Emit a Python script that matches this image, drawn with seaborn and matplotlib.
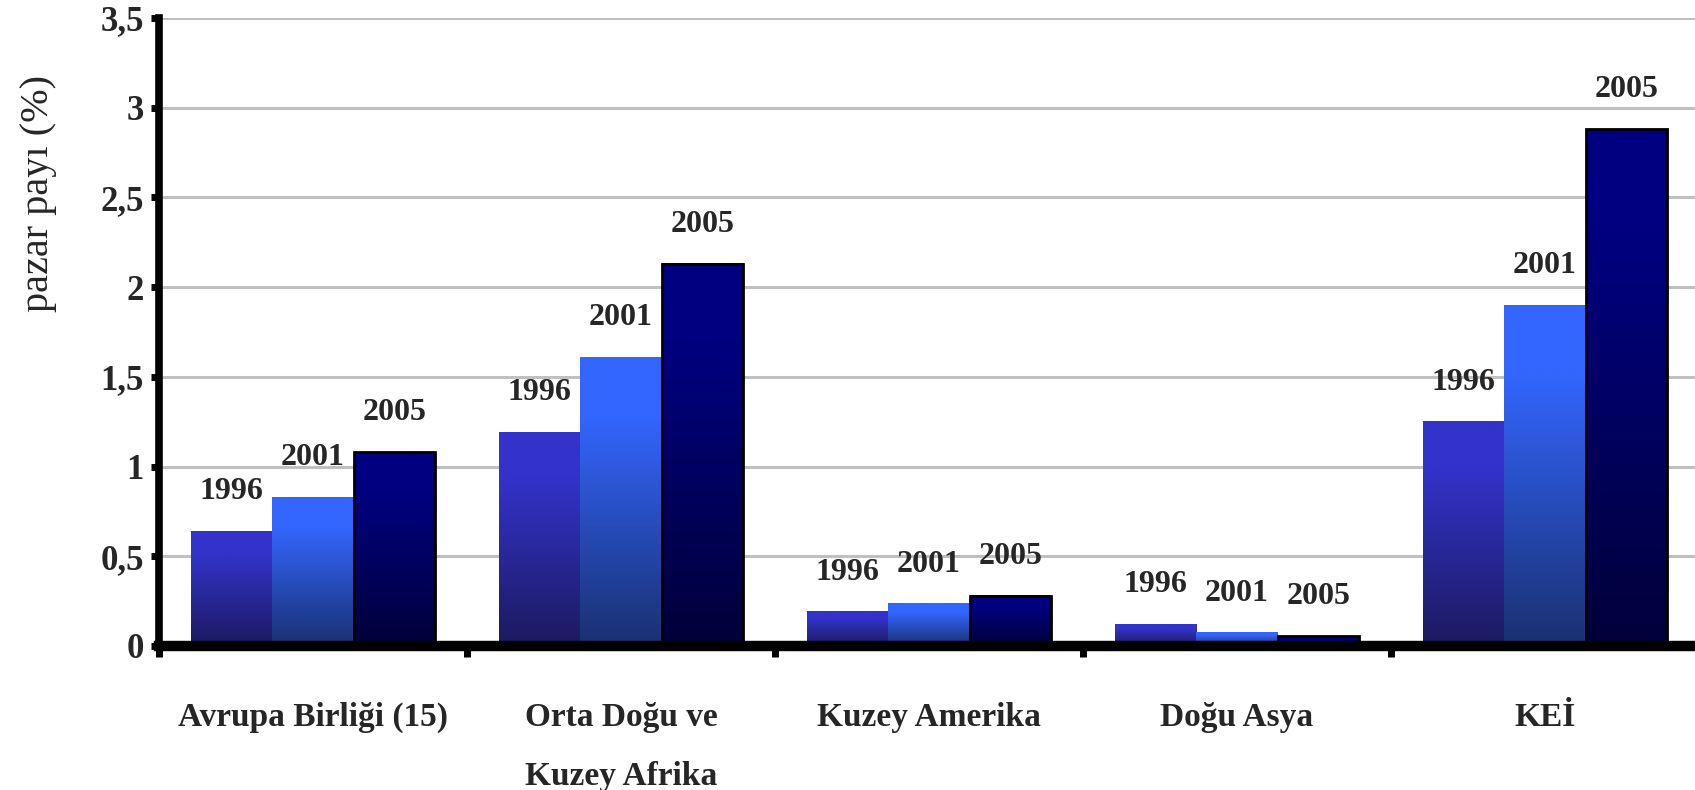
import numpy as np
import pandas as pd
import seaborn as sns
import matplotlib.pyplot as plt
from matplotlib.colors import to_rgb
from matplotlib.ticker import FixedLocator, FuncFormatter

# data
bolgeler = ["Avrupa Birliği (15)", "Orta Doğu ve\nKuzey Afrika", "Kuzey Amerika", "Doğu Asya", "KEİ"]
yillar = ["1996", "2001", "2005"]
pay_1996 = [0.64, 1.19, 0.19, 0.12, 1.25]
pay_2001 = [0.83, 1.61, 0.235, 0.075, 1.90]
pay_2005 = [1.08, 2.13, 0.28, 0.055, 2.88]

# bar colours: top / bottom of the gradient
renk_ust = {"1996": "#3333cc", "2001": "#3366ff", "2005": "#000080"}
renk_alt = {"1996": "#1c1a5e", "2001": "#1a3070", "2005": "#00003a"}


def gradient_fill(ax, patch, top, bottom):
    x, w, h = patch.get_x(), patch.get_width(), patch.get_height()
    t = np.clip(np.linspace(0, 1, 256) / 0.8, 0, 1)
    c0, c1 = np.array(to_rgb(bottom)), np.array(to_rgb(top))
    grad = (c0 + (c1 - c0) * t[:, None])[:, None, :]
    ax.imshow(grad, extent=[x, x + w, 0, h], origin="lower", aspect="auto",
              zorder=patch.get_zorder() - 0.01, interpolation="bilinear")
    patch.set_facecolor("none")


def main():
    df = pd.DataFrame({
        "bolge": bolgeler * 3,
        "yil": [y for y in yillar for _ in bolgeler],
        "pay": pay_1996 + pay_2001 + pay_2005,
    })

    sns.set_style("white")
    plt.rcParams["font.family"] = ["Liberation Serif", "DejaVu Serif"]
    plt.rcParams["font.weight"] = "bold"

    fig = plt.figure(figsize=(16.95, 7.9), dpi=100)
    ax = fig.add_axes([159 / 1695, 144 / 790, 1540 / 1695, 628 / 790])

    sns.barplot(data=df, x="bolge", y="pay", hue="yil", hue_order=yillar,
                palette=renk_ust, width=0.79, saturation=1, errorbar=None,
                legend=False, ax=ax)

    for cont, yil in zip(ax.containers, yillar):
        for p in cont:
            gradient_fill(ax, p, renk_ust[yil], renk_alt[yil])
            if yil == "2005":
                p.set_edgecolor("black")
                p.set_linewidth(2)
            else:
                p.set_edgecolor("none")
        ax.bar_label(cont, labels=[yil] * len(bolgeler), padding=18,
                     fontsize=23, fontweight="bold")

    ax.set_xlim(-0.5, len(bolgeler) - 0.5)
    ax.set_ylim(0, 3.5)

    # y axis
    ax.yaxis.set_major_locator(FixedLocator(np.arange(0, 3.51, 0.5)))
    ax.yaxis.set_major_formatter(FuncFormatter(lambda v, _: f"{v:g}".replace(".", ",")))
    ax.tick_params(axis="y", left=True, direction="out", length=6, width=5, pad=5,
                   labelsize=25, color="black")
    ax.yaxis.grid(True, color="#c0c0c0", linewidth=2.2)
    ax.set_axisbelow(True)
    ax.set_ylabel("pazar payı (%)", fontsize=29, fontweight="normal")
    ax.yaxis.set_label_coords(-0.066, 0.72)

    # x axis: labels centered, ticks on category boundaries
    ax.set_xlabel("")
    ax.xaxis.set_minor_locator(FixedLocator(np.arange(-0.5, len(bolgeler), 1.0)))
    ax.tick_params(axis="x", which="major", bottom=True, length=0, pad=40, labelsize=24)
    ax.tick_params(axis="x", which="minor", bottom=True, direction="out", length=8,
                   width=5, color="black")
    for lab in ax.get_xticklabels():
        lab.set_linespacing(2.2)

    sns.despine(ax=ax)
    ax.spines["left"].set_linewidth(5.5)
    ax.spines["bottom"].set_linewidth(7.5)
    ax.spines["left"].set_color("black")
    ax.spines["bottom"].set_color("black")

    fig.savefig("out.png", dpi=100)


if __name__ == "__main__":
    main()
